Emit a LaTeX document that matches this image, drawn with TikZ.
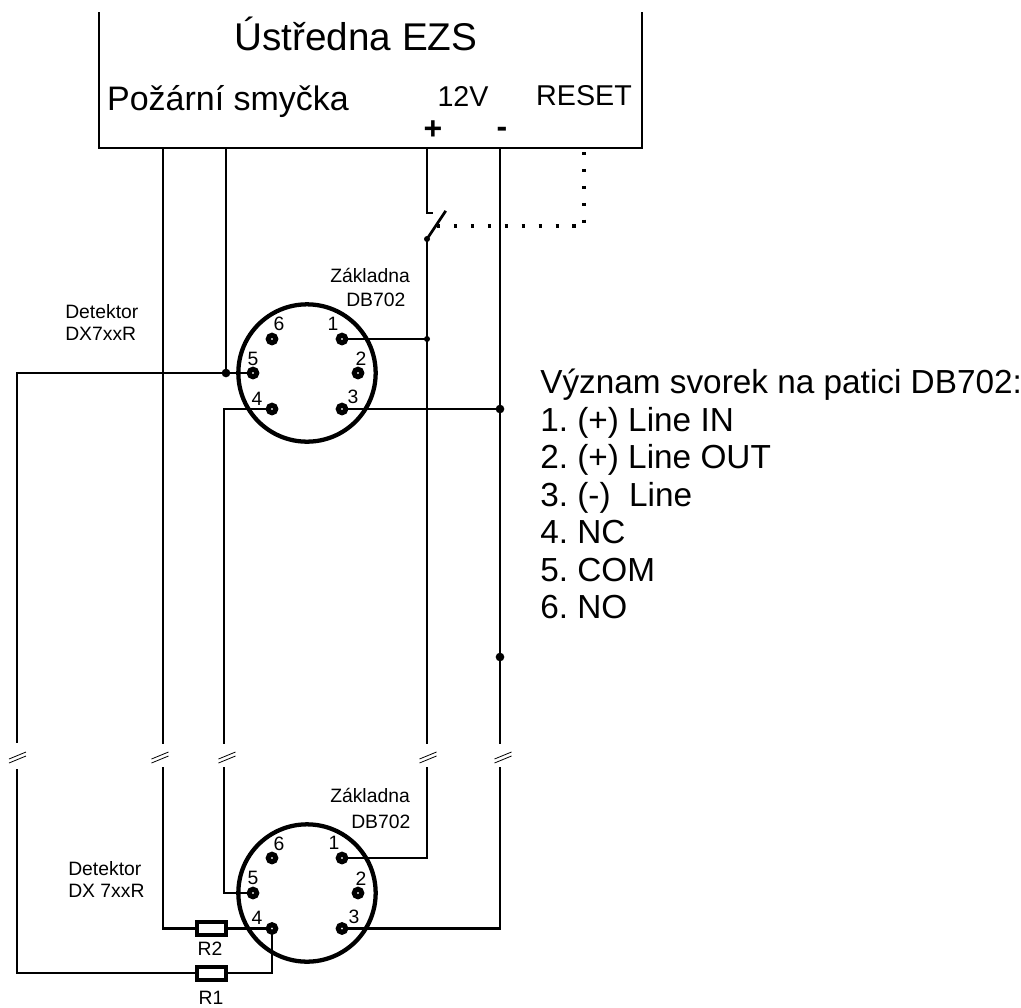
\documentclass[tikz,border=0pt]{standalone}
\usepackage{fontspec}
\setmainfont{Liberation Sans}
\usetikzlibrary{positioning}
\begin{document}
\begin{tikzpicture}[-,auto,x=0.75pt,y=-0.75pt]
\tikzstyle{wire}=[draw=black,line width=2pt,line cap=rect]
\tikzstyle{thinwire}=[draw=black,line width=0.6pt]
\tikzstyle{reset}=[draw=black,line width=2.5pt,dash pattern=on 2.5pt off 10.2pt]
\tikzstyle{socket}=[circle,draw=black,line width=3.2pt,minimum size=103pt,inner sep=0pt,outer sep=0pt]
\tikzstyle{pin}=[circle,draw=black,fill=white,line width=3.8pt,minimum size=5.6pt,inner sep=0pt,outer sep=0pt]
\tikzstyle{dot}=[circle,fill=black,minimum size=4.5pt,inner sep=0pt]
\tikzstyle{bigdot}=[circle,fill=black,minimum size=6.5pt,inner sep=0pt]
\tikzstyle{resistor}=[rectangle,draw=black,fill=white,line width=3pt,minimum width=21.75pt,minimum height=9.75pt,inner sep=0pt,outer sep=0pt]
\tikzstyle{small}=[inner sep=0pt,anchor=base,font=\fontsize{14.5}{16}\selectfont]
\tikzstyle{left}=[inner sep=0pt,anchor=base west,font=\fontsize{14.5}{16}\selectfont]
\tikzstyle{large}=[inner sep=0pt,anchor=base,font=\fontsize{21.5}{24}\selectfont]
\tikzstyle{sign}=[inner sep=0pt,anchor=base,font=\bfseries\fontsize{24}{28}\selectfont]
\tikzstyle{note}=[inner sep=0pt,anchor=base west,font=\frenchspacing\fontsize{25}{28}\selectfont]
\useasboundingbox (0,0) rectangle (1021,1007);
% central unit
\coordinate (tl) at(99,12);
\coordinate (bl) at(99,148);
\coordinate (br) at(642,148);
\coordinate (tr) at(642,12);
\draw [line width=1.3pt] (tl) -- (bl) -- (br) -- (tr);
\node [inner sep=0pt,anchor=base,font=\fontsize{29}{32}\selectfont] (title) at(356,50) {Ústředna EZS};
\node [inner sep=0pt,anchor=base,font=\fontsize{25.5}{28}\selectfont] (loop) at(228,110) {Požární smyčka};
\node [large] (volt) at(463,106) {12V};
\node [large] (rst) at(584,105) {RESET};
\node [sign] (plus) at(433,139) {+};
\node [sign] (minus) at(502,137) {-};
% upper socket
\node [socket] (s) at(307,373) {};
\node [pin] (p1) at(342,339) {};
\node [pin] (p2) at(358,373) {};
\node [pin] (p3) at(342,409) {};
\node [pin] (p4) at(272,409) {};
\node [pin] (p5) at(253,373) {};
\node [pin] (p6) at(272,339) {};
\node [small] (n1) at(333,330) {1};
\node [small] (n2) at(361,365) {2};
\node [small] (n3) at(353,403) {3};
\node [small] (n4) at(257,405) {4};
\node [small] (n5) at(253,365) {5};
\node [small] (n6) at(279,330) {6};
\node [left] (base) at(330,282) {Základna};
\node [left] (type) at(346,306) {DB702};
\node [left] (det) at(65,318) {Detektor};
\node [left] (dx) at(65,340) {DX7xxR};
% lower socket
\node [socket] (t) at(307,893) {};
\node [pin] (q1) at(342,858) {};
\node [pin] (q2) at(358,893) {};
\node [pin] (q3) at(342,928.5) {};
\node [pin] (q4) at(272,928.5) {};
\node [pin] (q5) at(253,893) {};
\node [pin] (q6) at(272,858) {};
\node [small] (m1) at(334,849) {1};
\node [small] (m2) at(361,885) {2};
\node [small] (m3) at(354,923) {3};
\node [small] (m4) at(257,924) {4};
\node [small] (m5) at(253,884) {5};
\node [small] (m6) at(279,850) {6};
\node [left] (lbase) at(330,802) {Základna};
\node [left] (ltype) at(351,828) {DB702};
\node [left] (ldet) at(68,875) {Detektor};
\node [left] (ldx) at(68,897) {DX 7xxR};
\node [resistor] (r2) at(211.5,928.5) {};
\node [resistor] (r1) at(211.5,973) {};
\node [small] (lr2) at(210,955) {R2};
\node [small] (lr1) at(211,1004) {R1};
% junctions
\node [bigdot] (j5) at(226,373) {};
\node [dot] (j1) at(427,339) {};
\node [bigdot] (j3) at(500,409) {};
\node [bigdot] (j9) at(500,657) {};
\node [dot] (sw) at(427,239) {};
% wire ends
\coordinate (a1) at(163,148);
\coordinate (a2) at(226,148);
\coordinate (a3) at(427,148);
\coordinate (a4) at(500,148);
\coordinate (c0) at(17,373);
\coordinate (c2) at(224,409);
\coordinate (u0) at(17,742);
\coordinate (u1) at(163,743);
\coordinate (u2) at(224,743);
\coordinate (u3) at(427,743);
\coordinate (u4) at(500,743);
\coordinate (l0) at(17,770);
\coordinate (l1) at(163,768);
\coordinate (l2) at(224,768);
\coordinate (l3) at(427,768);
\coordinate (l4) at(500,768);
\coordinate (k0) at(17,973);
\coordinate (k1) at(163,928.5);
\coordinate (k2) at(224,893);
\coordinate (k3) at(427,858);
\coordinate (k4) at(500,928.5);
\coordinate (k5) at(272,973);
\coordinate (sa) at(427,213);
\coordinate (sb) at(432,213);
\coordinate (sc) at(445,212);
\coordinate (d1) at(437,226);
\coordinate (d2) at(577,226);
\coordinate (d3) at(584,152);
\coordinate (d4) at(584,224);
% wires
\path (a1) edge [wire] (u1);
\path (a2) edge [wire] (j5);
\draw [wire] (a3) -- (sa) -- (sb);
\path (sw) edge [wire] (sc);
\path (sw) edge [wire] (u3);
\path (a4) edge [wire] (u4);
\draw [wire] (u2) -- (c2) -- (p4);
\draw [wire] (u0) -- (c0) -- (j5);
\path (j5) edge [wire] (p5);
\path (p1) edge [wire] (j1);
\path (p3) edge [wire] (j3);
\draw [wire] (l0) -- (k0) -- (r1);
\draw [wire] (r1) -- (k5) -- (q4);
\draw [wire] (l1) -- (k1) -- (r2);
\path (r2) edge [wire] (q4);
\draw [wire] (l2) -- (k2) -- (q5);
\draw [wire] (l3) -- (k3) -- (q1);
\draw [wire] (l4) -- (k4) -- (q3);
\path (d1) edge [reset] (d2);
\path (d3) edge [reset] (d4);
% line breaks
\coordinate (b0) at(17.5,757.5);
\coordinate (b1) at(160,757.5);
\coordinate (b2) at(227,757.5);
\coordinate (b3) at(428,757.5);
\coordinate (b4) at(503,757.5);
\draw [thinwire] (b0) ++(-8.5,1.5) -- ++(17,-7);
\draw [thinwire] (b0) ++(-8.5,5.5) -- ++(17,-7);
\draw [thinwire] (b1) ++(-8.5,1.5) -- ++(17,-7);
\draw [thinwire] (b1) ++(-8.5,5.5) -- ++(17,-7);
\draw [thinwire] (b2) ++(-8.5,1.5) -- ++(17,-7);
\draw [thinwire] (b2) ++(-8.5,5.5) -- ++(17,-7);
\draw [thinwire] (b3) ++(-8.5,1.5) -- ++(17,-7);
\draw [thinwire] (b3) ++(-8.5,5.5) -- ++(17,-7);
\draw [thinwire] (b4) ++(-8.5,1.5) -- ++(17,-7);
\draw [thinwire] (b4) ++(-8.5,5.5) -- ++(17,-7);
% terminals
\node [note] (h0) at(540,393) {Význam svorek na patici DB702:};
\node [note] (h1) at(540,431) {1. (+) Line IN};
\node [note] (h2) at(540,468) {2. (+) Line OUT};
\node [note] (h3) at(540,506) {3. (-)\ \ Line};
\node [note] (h4) at(540,543) {4. NC};
\node [note] (h5) at(540,581) {5. COM};
\node [note] (h6) at(540,618) {6. NO};
\end{tikzpicture}
\end{document}
